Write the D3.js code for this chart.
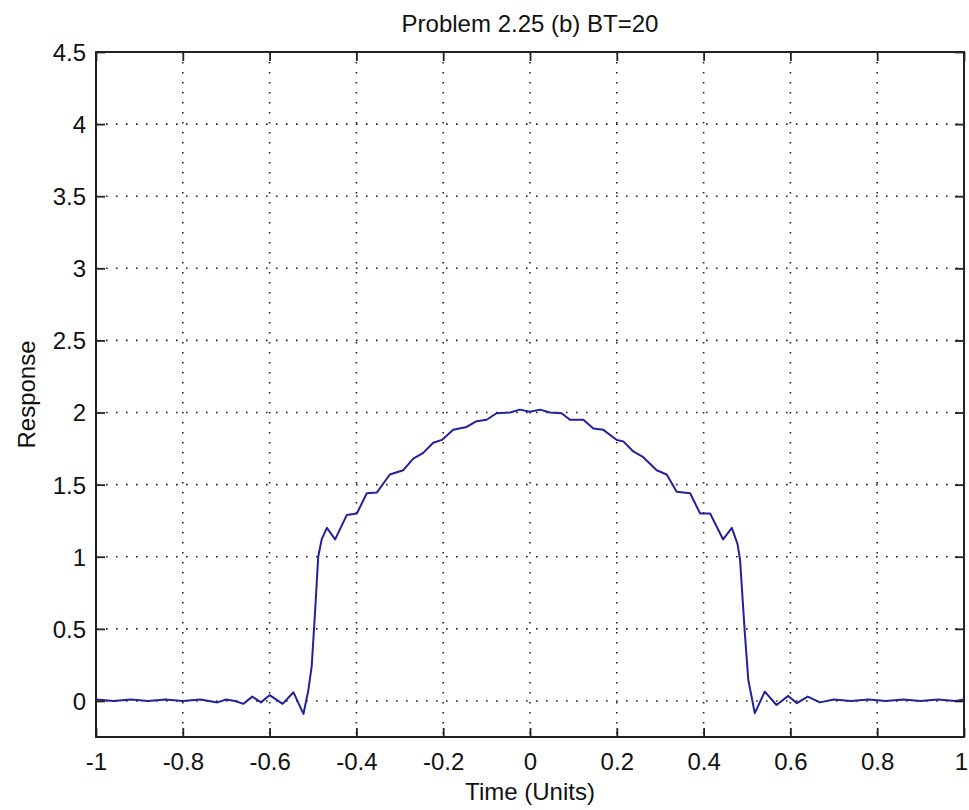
<!DOCTYPE html>
<html>
<head>
<meta charset="utf-8">
<script src="https://cdn.jsdelivr.net/npm/d3@7"></script>
<style>
  body { margin: 0; background: #fff; }
  text { font-family: "Liberation Sans", Arial, sans-serif; fill: #111; }
</style>
</head>
<body>
<div id="chart"></div>
<script>
// Data
var timeValues = [
  -1.00, -0.96, -0.92, -0.88, -0.84, -0.80, -0.76, -0.72, -0.70, -0.68,
  -0.66, -0.64, -0.62, -0.60, -0.57, -0.545, -0.522, -0.511, -0.503, -0.495,
  -0.488, -0.480, -0.468, -0.449, -0.422, -0.399, -0.376, -0.353, -0.323, -0.292,
  -0.269, -0.246, -0.223, -0.203, -0.177, -0.146, -0.123, -0.100, -0.077, -0.046,
  -0.023, 0.000, 0.023, 0.046, 0.073, 0.092, 0.123, 0.146, 0.169, 0.200,
  0.215, 0.238, 0.261, 0.292, 0.315, 0.338, 0.369, 0.392, 0.415, 0.445,
  0.465, 0.478, 0.484, 0.495, 0.503, 0.518, 0.541, 0.568, 0.595, 0.615,
  0.640, 0.668, 0.700, 0.740, 0.780, 0.820, 0.860, 0.900, 0.940, 0.980, 1.00
];
var responseValues = [
  0.01, 0.00, 0.01, 0.00, 0.01, 0.00, 0.01, -0.01, 0.01, 0.00,
  -0.02, 0.03, -0.01, 0.04, -0.02, 0.06, -0.09, 0.07, 0.24, 0.63,
  1.00, 1.12, 1.20, 1.12, 1.29, 1.30, 1.44, 1.445, 1.57, 1.60,
  1.68, 1.72, 1.79, 1.81, 1.88, 1.90, 1.94, 1.95, 1.995, 2.00,
  2.02, 2.006, 2.02, 2.00, 1.995, 1.95, 1.95, 1.89, 1.88, 1.81,
  1.80, 1.73, 1.69, 1.60, 1.57, 1.45, 1.44, 1.30, 1.30, 1.12,
  1.20, 1.09, 0.98, 0.47, 0.146, -0.085, 0.065, -0.028, 0.035, -0.015,
  0.03, -0.01, 0.01, 0.00, 0.01, 0.00, 0.01, 0.00, 0.01, 0.00, 0.01
];
var xTicks = [-1, -0.8, -0.6, -0.4, -0.2, 0, 0.2, 0.4, 0.6, 0.8, 1];
var yTicks = [0, 0.5, 1, 1.5, 2, 2.5, 3, 3.5, 4, 4.5];

var data = timeValues.map(function(t, i) { return { t: t, r: responseValues[i] }; });

// plain hyphen minus like the original plot
function fmt(d) { return String(d); }

// Layout
var W = 969, H = 810;
var margin = { top: 52, right: 5, bottom: 73, left: 96 };
var width = W - margin.left - margin.right;
var height = H - margin.top - margin.bottom;

var svg = d3.select("#chart").append("svg")
  .attr("width", W)
  .attr("height", H);

var g = svg.append("g")
  .attr("transform", "translate(" + margin.left + "," + margin.top + ")");

var x = d3.scaleLinear().domain([-1, 1]).range([0, width]);
var y = d3.scaleLinear().domain([-0.25, 4.5]).range([height, 0]);

// Grid lines (dotted)
g.selectAll(".vgrid").data(xTicks.slice(1, -1)).enter().append("line")
  .attr("x1", function(d) { return x(d); }).attr("x2", function(d) { return x(d); })
  .attr("y1", 0).attr("y2", height)
  .attr("stroke", "#222").attr("stroke-width", 1.6)
  .attr("stroke-dasharray", "1.6,8.4");

g.selectAll(".hgrid").data(yTicks.slice(0, -1)).enter().append("line")
  .attr("x1", 0).attr("x2", width)
  .attr("y1", function(d) { return y(d); }).attr("y2", function(d) { return y(d); })
  .attr("stroke", "#222").attr("stroke-width", 1.6)
  .attr("stroke-dasharray", "1.6,8.4");

// Curve
var line = d3.line()
  .x(function(d) { return x(d.t); })
  .y(function(d) { return y(d.r); });

g.append("path")
  .datum(data)
  .attr("fill", "none")
  .attr("stroke", "#22229c")
  .attr("stroke-width", 2)
  .attr("stroke-linejoin", "round")
  .attr("d", line);

// Axes with inward ticks
var tickLen = 9;
var xAxis = g.append("g")
  .attr("transform", "translate(0," + height + ")")
  .call(d3.axisBottom(x).tickValues(xTicks).tickSizeInner(-tickLen).tickSizeOuter(0)
    .tickPadding(16).tickFormat(fmt));
g.append("g")
  .call(d3.axisTop(x).tickValues(xTicks).tickSizeInner(-tickLen).tickSizeOuter(0).tickFormat(""));
var yAxis = g.append("g")
  .call(d3.axisLeft(y).tickValues(yTicks).tickSizeInner(-tickLen).tickSizeOuter(0)
    .tickPadding(10).tickFormat(fmt));
g.append("g")
  .attr("transform", "translate(" + width + ",0)")
  .call(d3.axisRight(y).tickValues(yTicks).tickSizeInner(-tickLen).tickSizeOuter(0).tickFormat(""));

g.selectAll(".domain").remove();
g.selectAll(".tick line").attr("stroke", "#222").attr("stroke-width", 1.8);
g.selectAll(".tick text")
  .style("font-family", "'Liberation Sans', Arial, sans-serif")
  .style("font-size", "24px")
  .attr("fill", "#111");
xAxis.selectAll(".tick text").attr("dy", "0.71em");
yAxis.selectAll(".tick text").attr("dy", "0.35em");
// keep the last x label inside the window
xAxis.selectAll(".tick text").filter(function(d) { return d === 1; }).attr("dx", -3);

// Box
g.append("rect")
  .attr("x", 0).attr("y", 0)
  .attr("width", width).attr("height", height)
  .attr("fill", "none")
  .attr("stroke", "#222")
  .attr("stroke-width", 2);

// Title and labels
svg.append("text")
  .attr("x", margin.left + width / 2)
  .attr("y", 32)
  .attr("text-anchor", "middle")
  .style("font-size", "24px")
  .text("Problem 2.25 (b) BT=20");

svg.append("text")
  .attr("x", margin.left + width / 2)
  .attr("y", 800)
  .attr("text-anchor", "middle")
  .style("font-size", "24px")
  .text("Time (Units)");

svg.append("text")
  .attr("transform", "translate(35," + (margin.top + height / 2) + ") rotate(-90)")
  .attr("text-anchor", "middle")
  .style("font-size", "24px")
  .text("Response");
</script>
</body>
</html>
